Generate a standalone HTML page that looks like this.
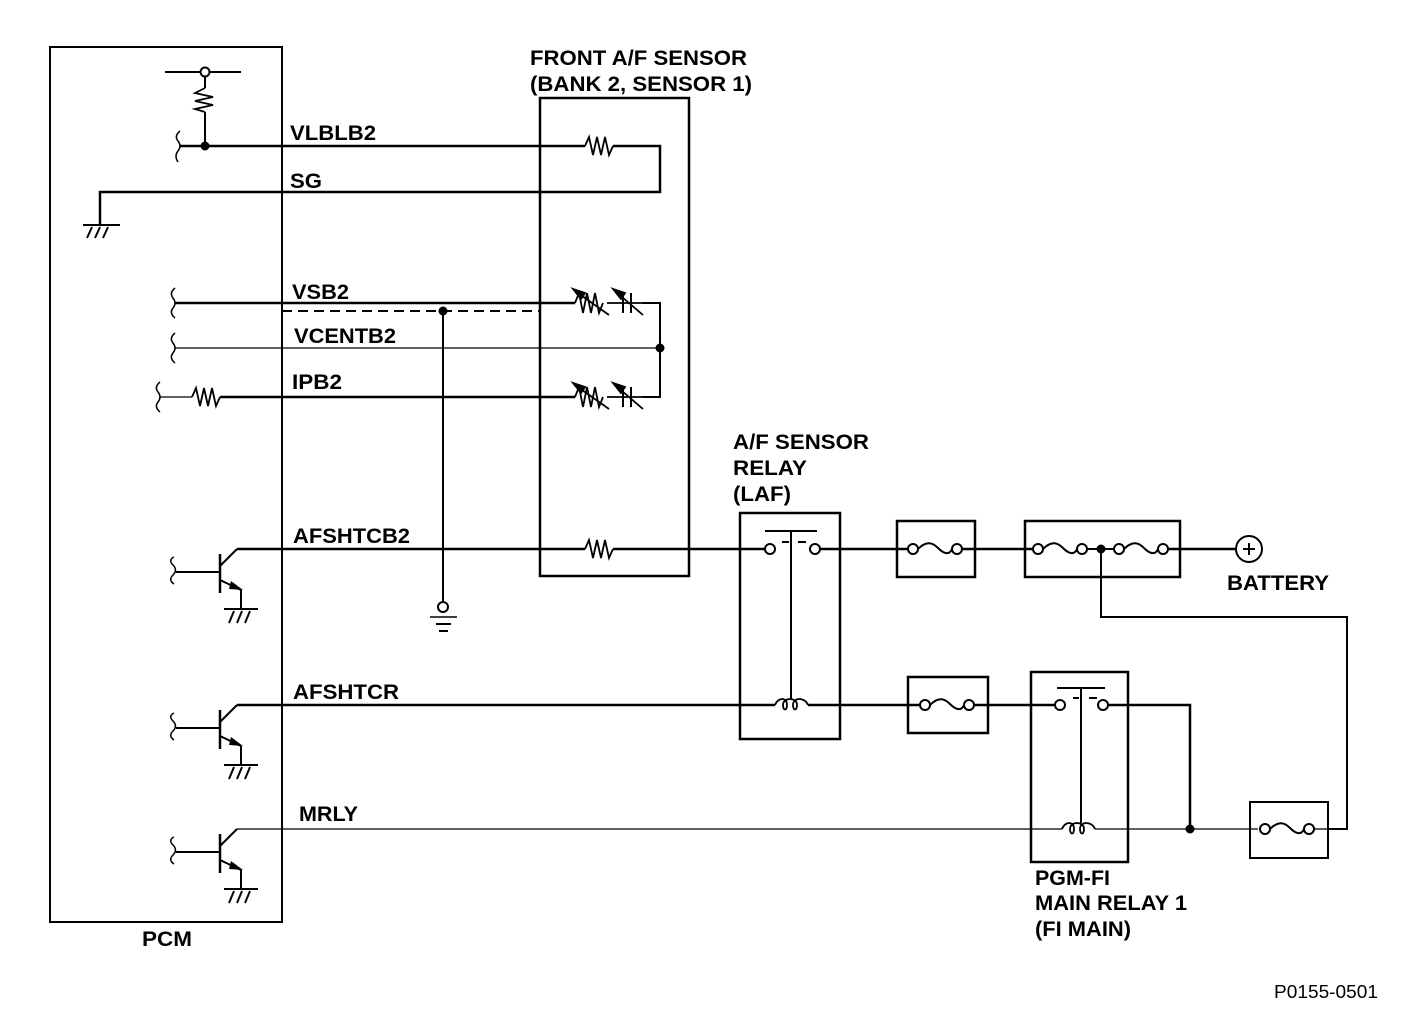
<!DOCTYPE html>
<html><head><meta charset="utf-8"><style>
html,body{margin:0;padding:0;background:#fff}
svg{display:block}
text{font-family:"Liberation Sans",Arial,sans-serif;font-weight:bold;font-size:21px;fill:#000}
</style></head><body>
<svg width="1408" height="1020" viewBox="0 0 1408 1020" xmlns="http://www.w3.org/2000/svg">
<defs>
<g id="fuse" fill="none" stroke="#000" stroke-width="2">
<circle cx="0" cy="0" r="5" fill="#fff"/>
<path d="M5,0 C14,-9 20,-6 25,-1 C30,4 36,7 39,0"/>
<circle cx="44" cy="0" r="5" fill="#fff"/>
</g>
<g id="tr" fill="none" stroke="#000">
<path d="M0,-23 Q-6,-20 -1,-15 Q4,-10 -1,-5 Q-6,0 0,4" stroke-width="1.5" transform="translate(-6,0)"/>
<line x1="-4" y1="-8" x2="40" y2="-8" stroke-width="2"/>
<line x1="40" y1="-26" x2="40" y2="13" stroke-width="2.5"/>
<line x1="40" y1="-14" x2="57" y2="-31" stroke-width="2"/>
<line x1="40" y1="0" x2="61" y2="10" stroke-width="2"/>
<polygon points="63,10 51,1 49,9" fill="#000" stroke="none"/>
<line x1="61" y1="10" x2="61" y2="29" stroke-width="2"/>
<line x1="44" y1="29" x2="78" y2="29" stroke-width="2"/>
<path d="M54,31 l-5,12 M62,31 l-5,12 M70,31 l-5,12" stroke-width="2"/>
</g>
<g id="vr" fill="none" stroke="#000" stroke-width="1.8">
<path d="M0,0 l4,-10 l4,20 l4,-20 l4,20 l4,-20 l4,20 l4,-10"/>
<line x1="0" y1="-12" x2="34" y2="12"/>
<polygon points="-2,-14 10,-10 6,-4" fill="#000"/>
<line x1="32" y1="0" x2="68" y2="0"/>
<line x1="48" y1="-10" x2="48" y2="10" stroke-width="2"/>
<line x1="56" y1="-10" x2="56" y2="10" stroke-width="2"/>
<line x1="40" y1="-12" x2="68" y2="12"/>
<polygon points="38,-14 50,-10 46,-4" fill="#000"/>
</g>
<g id="res" fill="none" stroke="#000" stroke-width="1.8">
<path d="M0,0 l4,-9 l4,18 l4,-18 l4,18 l4,-18 l4,18 l4,-9"/>
</g>
<g id="coil" fill="none" stroke="#000" stroke-width="1.8">
<path d="M0,0 C3,-8 12,-8 12,0 C12,6 8,6 8,0 C8,-8 22,-8 22,0 C22,6 18,6 18,0 C18,-8 30,-8 33,0"/>
</g>
</defs>
<g fill="none" stroke="#000" stroke-width="2">
<rect x="50" y="47" width="232" height="875"/>
<line x1="165" y1="72" x2="241" y2="72"/>
<circle cx="205" cy="72" r="4.5" fill="#fff"/>
<line x1="205" y1="77" x2="205" y2="88"/>
<path d="M205,88 l-10,5 l18,4 l-18,4 l18,4 l-18,4 l10,3" stroke-width="1.8"/>
<line x1="205" y1="112" x2="205" y2="146"/>
<path d="M180,131 Q174,136 178,141 Q182,146 178,151 Q174,156 178,162" stroke-width="1.5"/>
<line x1="180" y1="146" x2="585" y2="146" stroke-width="2.5"/>
<use href="#res" x="585" y="146"/>
<polyline points="613,146 660,146 660,192 100,192 100,225" stroke-width="2.5"/>
<line x1="83" y1="225" x2="120" y2="225"/>
<path d="M92,227 l-5,11 M100,227 l-5,11 M108,227 l-5,11" stroke-width="2"/>
<rect x="540" y="98" width="149" height="478" stroke-width="2.5"/>
<path d="M175,288 Q169,293 173,298 Q177,303 173,308 Q169,313 175,318" stroke-width="1.5"/>
<line x1="175" y1="303" x2="575" y2="303" stroke-width="2.5"/>
<use href="#vr" x="575" y="303"/>
<polyline points="643,303 660,303 660,397 643,397" stroke-width="2"/>
<line x1="282" y1="311" x2="540" y2="311" stroke-dasharray="10,6"/>
<path d="M175,333 Q169,338 173,343 Q177,348 173,353 Q169,358 175,363" stroke-width="1.5"/>
<line x1="175" y1="348" x2="660" y2="348" stroke-width="1.3"/>
<path d="M160,382 Q154,387 158,392 Q162,397 158,402 Q154,407 160,412" stroke-width="1.5"/>
<line x1="160" y1="397" x2="192" y2="397" stroke-width="1.3"/>
<use href="#res" x="192" y="397"/>
<line x1="220" y1="397" x2="575" y2="397" stroke-width="2.5"/>
<use href="#vr" x="575" y="397"/>
<line x1="443" y1="311" x2="443" y2="602"/>
<circle cx="443" cy="607" r="5"/>
<line x1="430" y1="617" x2="457" y2="617" stroke-width="1.5"/>
<line x1="436" y1="624" x2="451" y2="624" stroke-width="2"/>
<line x1="439" y1="631" x2="448" y2="631" stroke-width="2"/>
<use href="#tr" x="180" y="580"/>
<use href="#tr" x="180" y="736"/>
<use href="#tr" x="180" y="860"/>
<line x1="237" y1="549" x2="585" y2="549" stroke-width="2.5"/>
<use href="#res" x="585" y="549"/>
<line x1="613" y1="549" x2="765" y2="549" stroke-width="2.5"/>
<rect x="740" y="513" width="100" height="226" stroke-width="2.5"/>
<circle cx="770" cy="549" r="5"/>
<circle cx="815" cy="549" r="5"/>
<line x1="765" y1="531" x2="817" y2="531"/>
<line x1="782" y1="542" x2="789" y2="542"/>
<line x1="798" y1="542" x2="806" y2="542"/>
<line x1="791" y1="531" x2="791" y2="699"/>
<line x1="820" y1="549" x2="908" y2="549" stroke-width="2.5"/>
<rect x="897" y="521" width="78" height="56" stroke-width="2.5"/>
<use href="#fuse" x="913" y="549"/>
<line x1="962" y1="549" x2="1033" y2="549" stroke-width="2.5"/>
<rect x="1025" y="521" width="155" height="56" stroke-width="2.5"/>
<use href="#fuse" x="1038" y="549"/>
<use href="#fuse" x="1119" y="549"/>
<line x1="1087" y1="549" x2="1114" y2="549"/>
<line x1="1168" y1="549" x2="1236" y2="549" stroke-width="2.5"/>
<circle cx="1249" cy="549" r="13"/>
<line x1="1243" y1="549" x2="1255" y2="549"/>
<line x1="1249" y1="543" x2="1249" y2="555"/>
<polyline points="1101,549 1101,617 1347,617 1347,829 1328,829"/>
<line x1="237" y1="705" x2="775" y2="705" stroke-width="2.5"/>
<use href="#coil" x="775" y="705"/>
<line x1="808" y1="705" x2="920" y2="705" stroke-width="2.5"/>
<rect x="908" y="677" width="80" height="56" stroke-width="2.5"/>
<use href="#fuse" x="925" y="705"/>
<line x1="974" y1="705" x2="1055" y2="705" stroke-width="2.5"/>
<rect x="1031" y="672" width="97" height="190" stroke-width="2.5"/>
<circle cx="1060" cy="705" r="5"/>
<circle cx="1103" cy="705" r="5"/>
<line x1="1057" y1="688" x2="1105" y2="688"/>
<line x1="1073" y1="698" x2="1079" y2="698"/>
<line x1="1089" y1="698" x2="1097" y2="698"/>
<line x1="1081" y1="688" x2="1081" y2="823"/>
<polyline points="1108,705 1190,705 1190,829" stroke-width="2.5"/>
<line x1="237" y1="829" x2="1062" y2="829" stroke-width="1.3"/>
<use href="#coil" x="1062" y="829"/>
<line x1="1095" y1="829" x2="1258" y2="829" stroke-width="1.3"/>
<rect x="1250" y="802" width="78" height="56" stroke-width="2"/>
<use href="#fuse" x="1265" y="829"/>
<line x1="1314" y1="829" x2="1328" y2="829" stroke-width="1.3"/>
</g>
<g fill="#000">
<circle cx="205" cy="146" r="4.5"/>
<circle cx="660" cy="348" r="4.5"/>
<circle cx="443" cy="311" r="4.5"/>
<circle cx="1101" cy="549" r="4.5"/>
<circle cx="1190" cy="829" r="4.5"/>
</g>
<g>
<text x="530" y="65" textLength="217" lengthAdjust="spacingAndGlyphs">FRONT A/F SENSOR</text>
<text x="530" y="91" textLength="222" lengthAdjust="spacingAndGlyphs">(BANK 2, SENSOR 1)</text>
<text x="290" y="140" textLength="86" lengthAdjust="spacingAndGlyphs">VLBLB2</text>
<text x="290" y="188" textLength="32" lengthAdjust="spacingAndGlyphs">SG</text>
<text x="292" y="299" textLength="57" lengthAdjust="spacingAndGlyphs">VSB2</text>
<text x="294" y="343" textLength="102" lengthAdjust="spacingAndGlyphs">VCENTB2</text>
<text x="292" y="389" textLength="50" lengthAdjust="spacingAndGlyphs">IPB2</text>
<text x="293" y="543" textLength="117" lengthAdjust="spacingAndGlyphs">AFSHTCB2</text>
<text x="293" y="699" textLength="106" lengthAdjust="spacingAndGlyphs">AFSHTCR</text>
<text x="299" y="821" textLength="59" lengthAdjust="spacingAndGlyphs">MRLY</text>
<text x="733" y="449" textLength="136" lengthAdjust="spacingAndGlyphs">A/F SENSOR</text>
<text x="733" y="475" textLength="74" lengthAdjust="spacingAndGlyphs">RELAY</text>
<text x="733" y="501" textLength="58" lengthAdjust="spacingAndGlyphs">(LAF)</text>
<text x="1227" y="590" textLength="102" lengthAdjust="spacingAndGlyphs">BATTERY</text>
<text x="142" y="946" textLength="50" lengthAdjust="spacingAndGlyphs">PCM</text>
<text x="1035" y="885" textLength="75" lengthAdjust="spacingAndGlyphs">PGM-FI</text>
<text x="1035" y="910" textLength="152" lengthAdjust="spacingAndGlyphs">MAIN RELAY 1</text>
<text x="1035" y="936" textLength="96" lengthAdjust="spacingAndGlyphs">(FI MAIN)</text>
<text x="1274" y="998" textLength="104" lengthAdjust="spacingAndGlyphs" style="font-weight:normal;font-size:18px">P0155-0501</text>
</g>
</svg>
</body></html>
